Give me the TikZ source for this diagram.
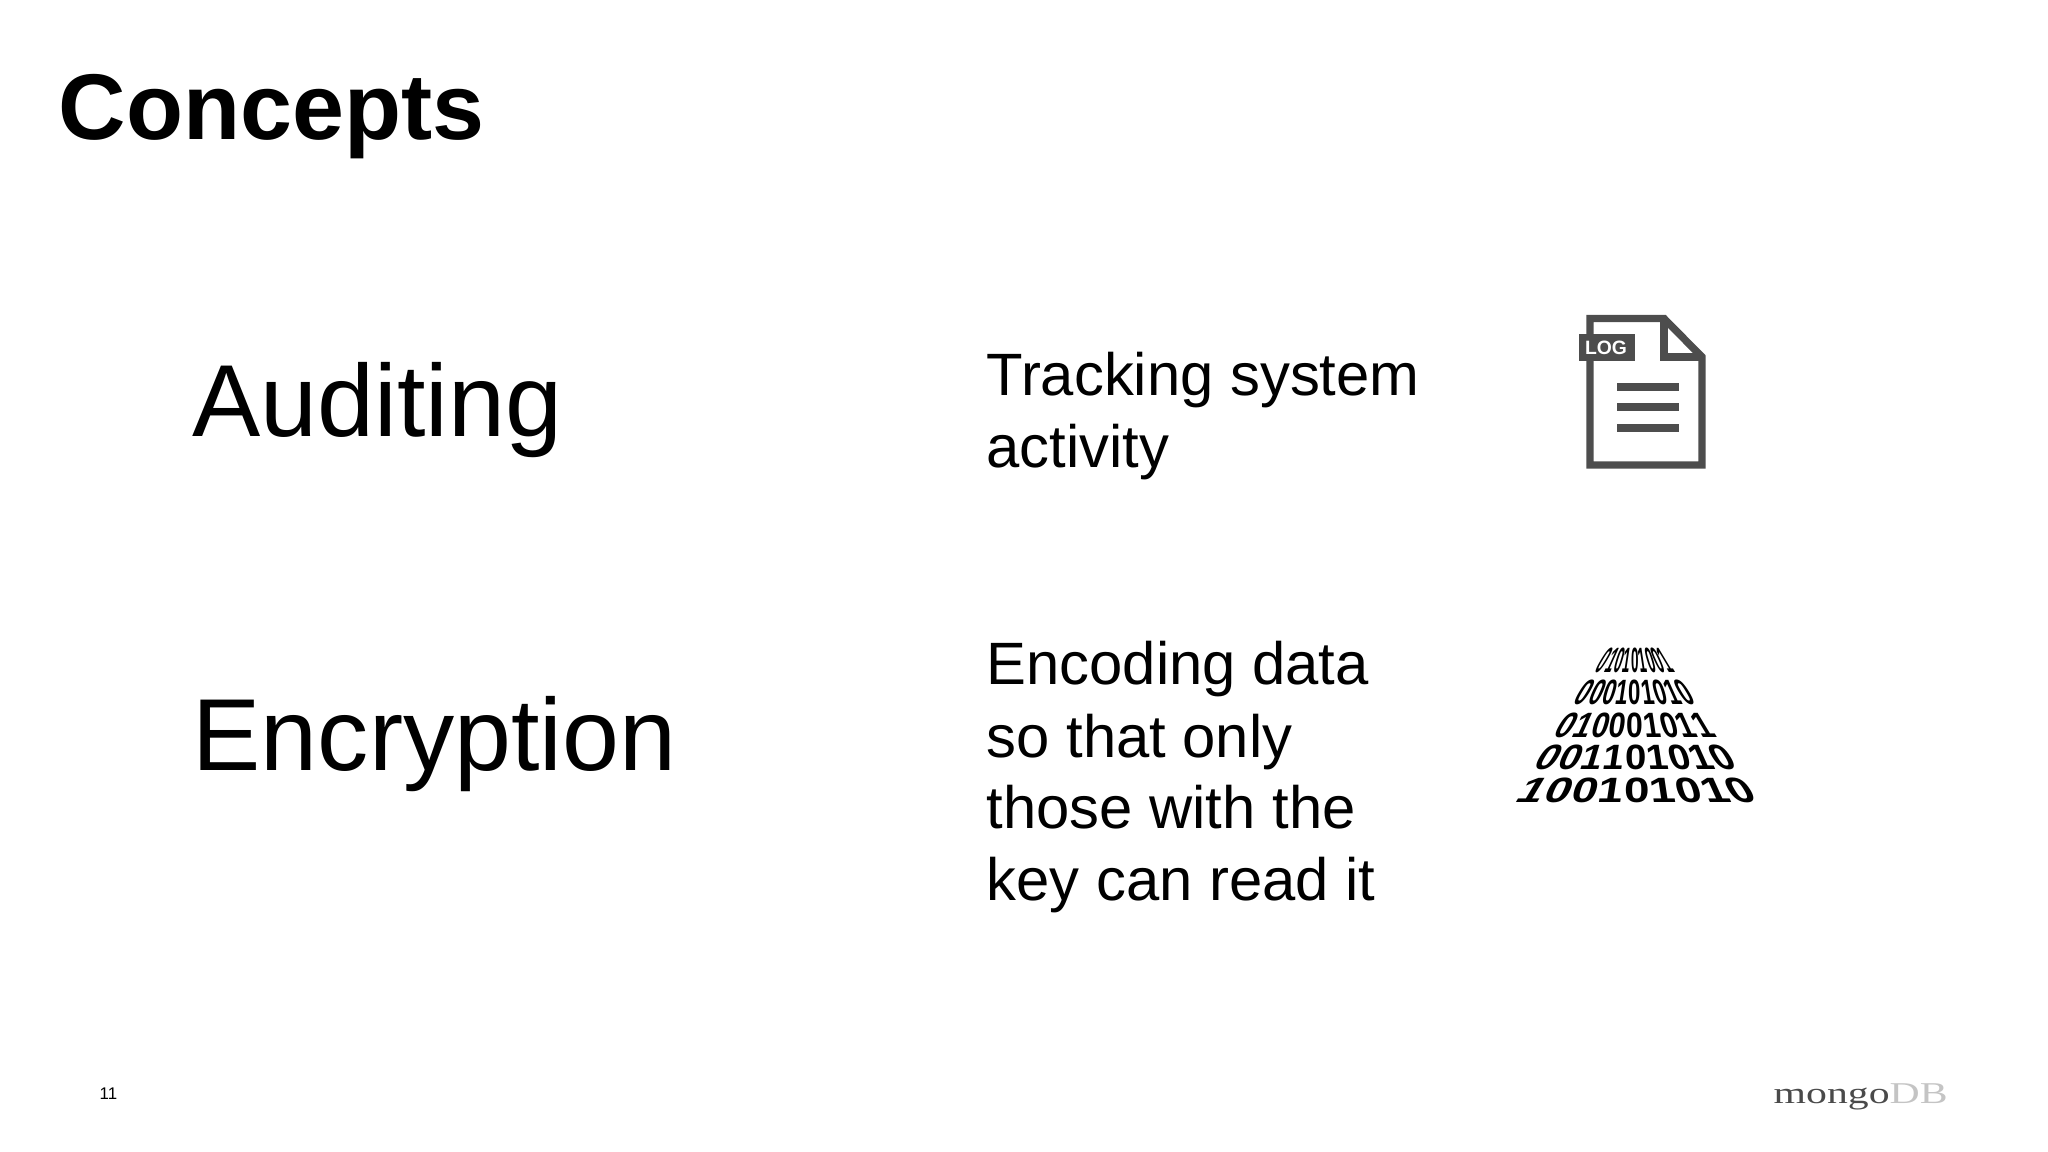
\documentclass[tikz,border=0pt]{standalone}
\usepackage{fontspec}
\setmainfont{Liberation Sans}
\newfontfamily\logofont[FakeStretch=1.38]{Liberation Serif}
\usepackage{xcolor}
\usetikzlibrary{
    calc,
    positioning
}
\definecolor{icongrey}{HTML}{4D4D4D}
\definecolor{logodark}{HTML}{4A4A4A}
\definecolor{logolight}{HTML}{C4C4C4}
\tikzset{
    title/.style={anchor=base west, inner sep=0pt, font=\fontsize{26.55}{26.55}\selectfont\bfseries},
    concept/.style={anchor=base west, inner sep=0pt, font=\fontsize{29.1}{29.1}\selectfont},
    gloss/.style={anchor=base west, inner sep=0pt, font=\fontsize{17}{20.5}\selectfont},
    iconline/.style={draw=icongrey, line width=0.74mm, line join=miter},
    bitdigit/.style={inner sep=0pt, transform shape, font=\fontsize{10}{10}\selectfont\bfseries}
}
\begin{document}
\begin{tikzpicture}[x=0.01cm, y=-0.01cm]
                                \useasboundingbox (0, 0) rectangle (2048, 1152);
                                \node[title] (heading) at (58, 140) {Concepts};
                                \node[concept] (auditing) at (192, 437) {Auditing};
                                \node[concept] (encryption) at (192, 770) {Encryption};
                                \node[gloss] (trackinga) at (986, 396) {Tracking system};
                                \node[gloss] (trackingb) at (986, 468) {activity};
                                \node[gloss] (encodinga) at (986, 685) {Encoding data};
                                \node[gloss] (encodingb) at (986, 757) {so that only};
                                \node[gloss] (encodingc) at (986, 828) {those with the};
                                \node[gloss] (encodingd) at (986, 900) {key can read it};
                                \node[anchor=base west, inner sep=0pt, font=\fontsize{4.8}{4.8}\selectfont] (pagenum) at (99, 1099) {11};
                                \node[anchor=base west, inner sep=0pt, font=\fontsize{8.6}{8.6}\selectfont\logofont] (logo) at (1773, 1103)
                                    {\textcolor{logodark}{mongo}\textcolor{logolight}{DB}};
                                % log file icon
                                \draw[iconline] (1590, 318.5) -- (1664, 318.5) -- (1702, 357) -- (1702, 465) -- (1590, 465) -- cycle;
                                \draw[iconline] (1664, 318.5) -- (1664, 357) -- (1702, 357);
                                \foreach \liney in {387, 407, 428} {
                                    \draw[iconline] (1617, \liney) -- (1679, \liney);
                                }
                                \fill[icongrey] (1579, 334) rectangle (1635, 361);
                                \node[text=white, inner sep=0pt, font=\fontsize{5.5}{5.5}\selectfont\bfseries] (logtag) at (1606, 348) {LOG};
                                % binary rows
                                \foreach \rowy/\rowx/\rowwidth/\rowbits in {
                                    660/1635/68/{0,1,0,1,0,1,0,0,1},
                                    692/1635/112/{0,0,0,1,0,1,0,1,0},
                                    725/1635/152/{0,1,0,0,0,1,0,1,1},
                                    757/1636/194/{0,0,1,1,0,1,0,1,0},
                                    790/1637/232/{1,0,0,1,0,1,0,1,0}} {
                                    \foreach \bit [count=\bitnum] in \rowbits {
                                        \pgfmathsetmacro{\bitx}{\rowx + (\bitnum - 5) * \rowwidth / 9}
                                        \pgfmathsetmacro{\bitslant}{-0.6 * (\bitnum - 5) / 4}
                                        \pgfmathsetmacro{\bitscale}{\rowwidth / 178}
                                        \begin{scope}[shift={(\bitx, \rowy)}, xslant=\bitslant, xscale=\bitscale]
                                            \node[bitdigit] (b\rowy-\bitnum) at (0, 0) {\bit};
                                        \end{scope}
                                    }
                                }
                            \end{tikzpicture}
\end{document}
